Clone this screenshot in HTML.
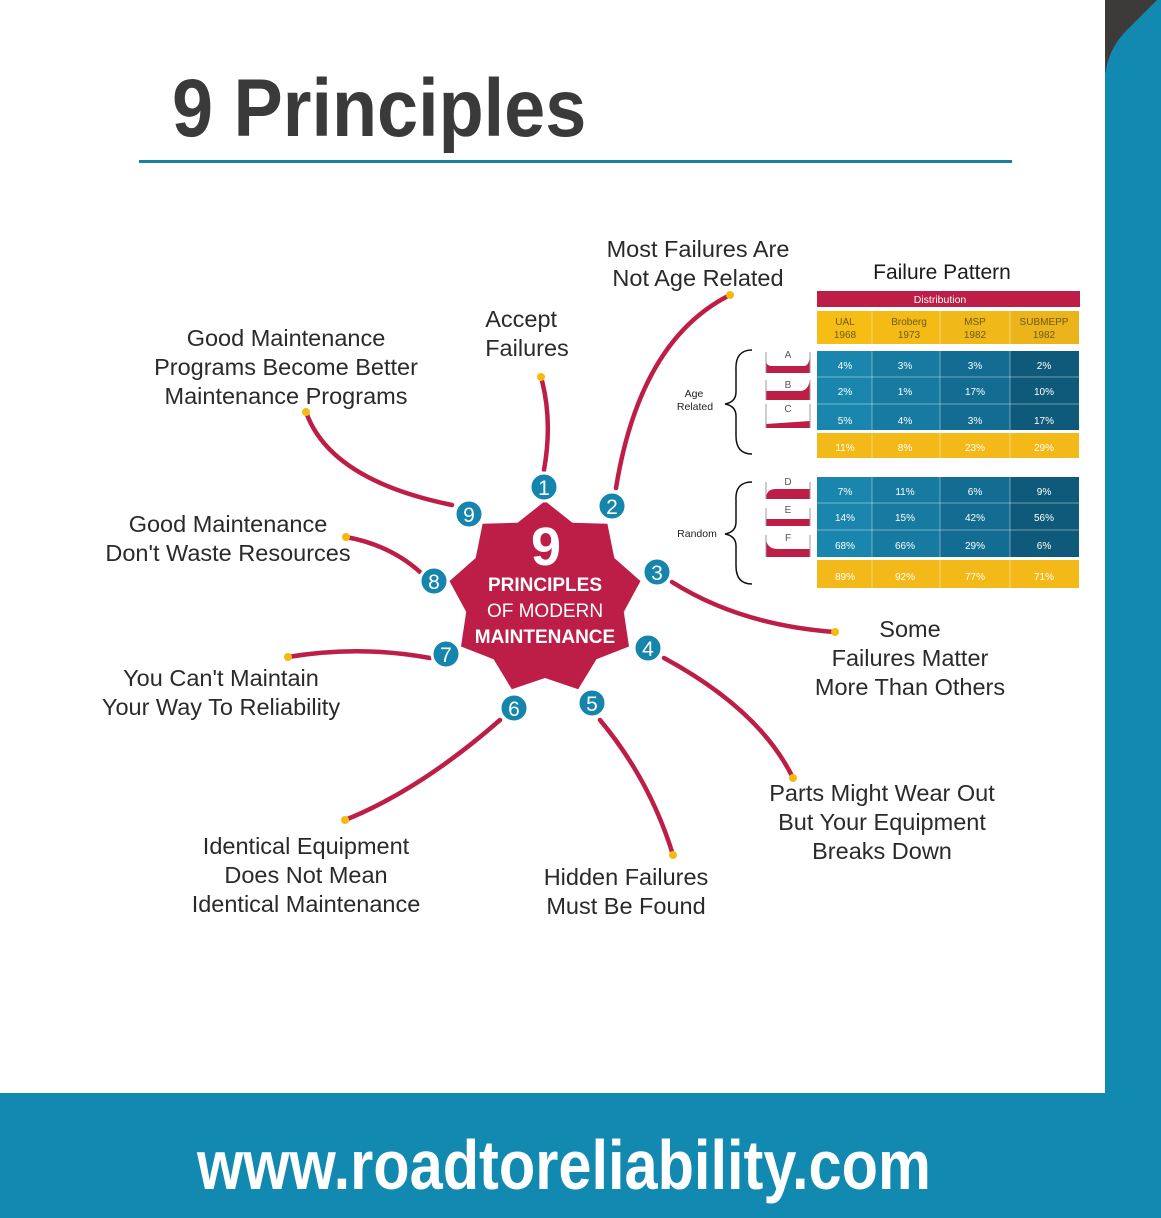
<!DOCTYPE html>
<html><head><meta charset="utf-8"><style>
body{margin:0;width:1161px;height:1218px;position:relative;overflow:hidden;background:#fff;font-family:"Liberation Sans",sans-serif}
.l{position:absolute;font-size:23.5px;line-height:29px;color:#2a2a2a;text-align:center;white-space:nowrap;transform:translateX(-50%)}
svg{position:absolute;left:0;top:0}
</style></head><body>
<div style="position:absolute;left:1105px;top:0;width:56px;height:1218px;background:#3d3a3a"></div>
<svg width="1161" height="1218">
<path d="M1105,75 Q1108,50 1125,32 L1161,-4 L1161,1218 L1105,1218Z" fill="#1289b0"/>
<rect x="0" y="1093" width="1161" height="125" fill="#1289b0"/>
<rect x="139" y="160" width="873" height="3" fill="#1e7ea1"/>
<g fill="none" stroke="#bc1e48" stroke-width="4.5" stroke-linecap="round">
<path d="M544,470 Q553,420 541,377"/>
<path d="M616,488 Q640,340 730,295"/>
<path d="M672,582 Q740,625 835,632"/>
<path d="M664,658 Q760,710 793,778"/>
<path d="M600,720 Q650,780 673,855"/>
<path d="M500,720 Q420,790 345,820"/>
<path d="M430,658 Q360,645 288,657"/>
<path d="M420,572 Q390,545 346,537"/>
<path d="M452,505 Q330,480 306,412"/>
</g>
<g fill="#f5b90f">
<circle cx="541" cy="377" r="4"/><circle cx="730" cy="295" r="4"/><circle cx="835" cy="632" r="4"/>
<circle cx="793" cy="778" r="4"/><circle cx="673" cy="855" r="4"/><circle cx="345" cy="820" r="4"/>
<circle cx="288" cy="657" r="4"/><circle cx="346" cy="537" r="4"/><circle cx="306" cy="412" r="4"/>
</g>
<polygon fill="#bc1e48" points="545,501 572.4,522.8 607.4,523.7 614.3,558 640.5,581.1 623.8,611.9 629,646.5 596.4,659.3 578.2,689.2 545,678 511.8,689.2 493.6,659.3 461,646.5 466.2,611.9 449.5,581.1 475.7,558 482.6,523.7 517.6,522.8"/>
<g fill="#1685ad" stroke="#fff" stroke-width="3">
<circle cx="544" cy="487" r="14"/><circle cx="612" cy="506" r="14"/><circle cx="657" cy="572" r="14"/>
<circle cx="648" cy="648" r="14"/><circle cx="592" cy="703" r="14"/><circle cx="514" cy="708" r="14"/>
<circle cx="446" cy="654" r="14"/><circle cx="434" cy="581" r="14"/><circle cx="469" cy="514" r="14"/>
</g>
<g fill="#fff" font-size="21" text-anchor="middle" font-family="Liberation Sans,sans-serif">
<text x="544" y="495">1</text><text x="612" y="514">2</text><text x="657" y="580">3</text>
<text x="648" y="656">4</text><text x="592" y="711">5</text><text x="514" y="716">6</text>
<text x="446" y="662">7</text><text x="434" y="589">8</text><text x="469" y="522">9</text>
</g>
<g fill="#fff" text-anchor="middle" font-family="Liberation Sans,sans-serif">
<text x="546" y="565" font-size="54" font-weight="bold">9</text>
<text x="545" y="591" font-size="19" font-weight="bold">PRINCIPLES</text>
<text x="545" y="617" font-size="19">OF MODERN</text>
<text x="545" y="643" font-size="19" font-weight="bold">MAINTENANCE</text>
</g>
<rect x="817" y="291" width="263" height="16" fill="#bc1e48"/>
<text x="940" y="303" font-size="10.5" fill="#fff" text-anchor="middle">Distribution</text>
<g>
<rect x="817" y="311" width="55" height="33" fill="#f6bd14"/><rect x="872" y="311" width="68" height="33" fill="#f4bb16"/>
<rect x="940" y="311" width="70" height="33" fill="#f0b818"/><rect x="1010" y="311" width="69" height="33" fill="#ebb41b"/>
</g>
<g font-size="10" fill="#6b5a1a" text-anchor="middle">
<text x="845" y="325">UAL</text><text x="845" y="338">1968</text>
<text x="909" y="325">Broberg</text><text x="909" y="338">1973</text>
<text x="975" y="325">MSP</text><text x="975" y="338">1982</text>
<text x="1044" y="325">SUBMEPP</text><text x="1044" y="338">1982</text>
</g>
<g>
<rect x="817" y="351" width="55" height="79" fill="#1a86ad"/><rect x="872" y="351" width="68" height="79" fill="#177aa0"/>
<rect x="940" y="351" width="70" height="79" fill="#136d92"/><rect x="1010" y="351" width="69" height="79" fill="#0f5a7a"/>
<rect x="817" y="477" width="55" height="80" fill="#1a86ad"/><rect x="872" y="477" width="68" height="80" fill="#177aa0"/>
<rect x="940" y="477" width="70" height="80" fill="#136d92"/><rect x="1010" y="477" width="69" height="80" fill="#0f5a7a"/>
<rect x="817" y="433" width="262" height="25" fill="#f3b919"/>
<rect x="817" y="560" width="262" height="28" fill="#f3b919"/>
</g>
<g stroke="#fff" stroke-opacity=".4" stroke-width="1">
<line x1="817" y1="377" x2="1079" y2="377"/><line x1="817" y1="404" x2="1079" y2="404"/>
<line x1="817" y1="503" x2="1079" y2="503"/><line x1="817" y1="530" x2="1079" y2="530"/>
<line x1="872" y1="311" x2="872" y2="588"/><line x1="940" y1="311" x2="940" y2="588"/><line x1="1010" y1="311" x2="1010" y2="588"/>
</g>
<g font-size="10" fill="#fff" text-anchor="middle">
<text x="845" y="369">4%</text><text x="905" y="369">3%</text><text x="975" y="369">3%</text><text x="1044" y="369">2%</text>
<text x="845" y="395">2%</text><text x="905" y="395">1%</text><text x="975" y="395">17%</text><text x="1044" y="395">10%</text>
<text x="845" y="424">5%</text><text x="905" y="424">4%</text><text x="975" y="424">3%</text><text x="1044" y="424">17%</text>
<text x="845" y="451">11%</text><text x="905" y="451">8%</text><text x="975" y="451">23%</text><text x="1044" y="451">29%</text>
<text x="845" y="495">7%</text><text x="905" y="495">11%</text><text x="975" y="495">6%</text><text x="1044" y="495">9%</text>
<text x="845" y="521">14%</text><text x="905" y="521">15%</text><text x="975" y="521">42%</text><text x="1044" y="521">56%</text>
<text x="845" y="549">68%</text><text x="905" y="549">66%</text><text x="975" y="549">29%</text><text x="1044" y="549">6%</text>
<text x="845" y="580">89%</text><text x="905" y="580">92%</text><text x="975" y="580">77%</text><text x="1044" y="580">71%</text>
</g>
<g fill="#bc1e48">
<path d="M766,360 Q766,366 772,366 H804 Q810,366 810,352 V373 H766Z"/>
<path d="M766,391 H800 Q808,391 810,380 V400 H766Z"/>
<path d="M766,424 L810,421 V428 H766Z"/>
<path d="M766,499 Q766,489 776,489 H810 V499Z"/>
<path d="M766,519 H810 V526 H766Z"/>
<path d="M766,537 Q766,549 778,549 H810 V557 H766Z"/>
</g>
<g fill="none" stroke="#999" stroke-width="1">
<path d="M766,352 V373 M810,352 V373"/><path d="M766,380 V400 M810,380 V400"/><path d="M766,404 V428 M810,404 V428"/>
<path d="M766,482 V499 M810,482 V499"/><path d="M766,508 V526 M810,508 V526"/><path d="M766,535 V557 M810,535 V557"/>
</g>
<g font-size="10" fill="#555" text-anchor="middle">
<text x="788" y="358">A</text><text x="788" y="388">B</text><text x="788" y="412">C</text>
<text x="788" y="485">D</text><text x="788" y="513">E</text><text x="788" y="541">F</text>
</g>
<g fill="none" stroke="#111" stroke-width="1.5">
<path d="M752,350 Q735,350 736,370 V392 Q736,402 725,404 Q736,406 736,416 V436 Q736,454 752,454"/>
<path d="M752,482 Q735,482 736,500 V522 Q736,532 725,534 Q736,536 736,546 V566 Q736,584 752,584"/>
</g>
<g font-size="10.5" fill="#222" text-anchor="middle">
<text x="694" y="397">Age</text><text x="695" y="410">Related</text><text x="697" y="537">Random</text>
</g>
<text x="942" y="279" font-size="21" fill="#1a1a1a" text-anchor="middle">Failure Pattern</text>
<text x="172" y="136" font-size="82" font-weight="bold" fill="#3a3a3a" transform="translate(172 0) scale(0.9 1) translate(-172 0)">9 Principles</text>
<text x="197" y="1189" font-size="70" font-weight="bold" fill="#fff" transform="translate(197 0) scale(0.85 1) translate(-197 0)">www.roadtoreliability.com</text>
</svg>
<div class="l" style="left:698px;top:235px">Most Failures Are<br>Not Age Related</div>
<div class="l" style="left:527px;top:305px;text-align:left">Accept<br>Failures</div>
<div class="l" style="left:286px;top:324px">Good Maintenance<br>Programs Become Better<br>Maintenance Programs</div>
<div class="l" style="left:228px;top:510px">Good Maintenance<br>Don't Waste Resources</div>
<div class="l" style="left:221px;top:664px">You Can't Maintain<br>Your Way To Reliability</div>
<div class="l" style="left:306px;top:832px">Identical Equipment<br>Does Not Mean<br>Identical Maintenance</div>
<div class="l" style="left:626px;top:863px">Hidden Failures<br>Must Be Found</div>
<div class="l" style="left:882px;top:779px">Parts Might Wear Out<br>But Your Equipment<br>Breaks Down</div>
<div class="l" style="left:910px;top:615px">Some<br>Failures Matter<br>More Than Others</div>
</body></html>
